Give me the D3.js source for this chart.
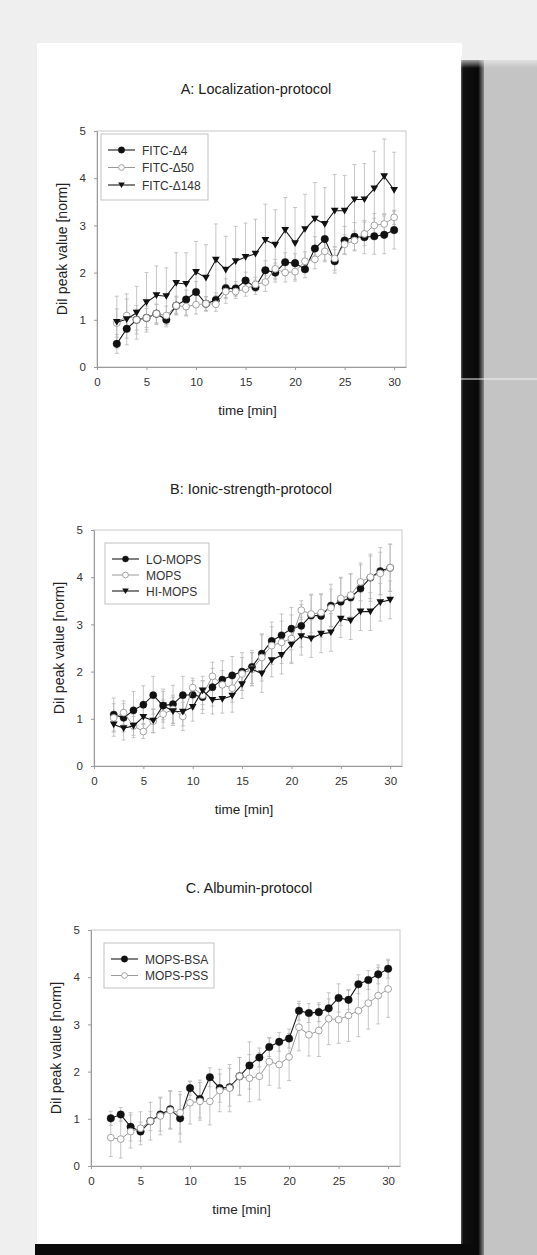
<!DOCTYPE html>
<html>
<head>
<meta charset="utf-8">
<style>
  body { margin: 0; background: #efefef; }
  svg { display: block; font-family: 'Liberation Sans', Arial, sans-serif; }
</style>
</head>
<body>
<svg width="537" height="1255"></svg>
<script src="https://d3js.org/d3.v7.min.js"></script>
<script>
// time points in minutes, shared by all three panels
let time = [2, 3, 4, 5, 6, 7, 8, 9, 10, 11, 12, 13, 14, 15, 16, 17, 18, 19, 20, 21, 22, 23, 24, 25, 26, 27, 28, 29, 30];
let xTicks = [0, 5, 10, 15, 20, 25, 30];
let yTicks = [0, 1, 2, 3, 4, 5];

// A: Localization-protocol
let fitc4 = [0.49, 0.81, 1.0, 1.04, 1.13, 1.0, 1.3, 1.43, 1.59, 1.34, 1.42, 1.67, 1.66, 1.83, 1.69, 2.05, 2.0, 2.22, 2.2, 2.07, 2.51, 2.71, 2.24, 2.68, 2.76, 2.75, 2.77, 2.8, 2.9];
let fitc4Sd = [0.2, 0.2, 0.22, 0.2, 0.2, 0.15, 0.18, 0.2, 0.22, 0.15, 0.15, 0.2, 0.15, 0.18, 0.15, 0.2, 0.2, 0.2, 0.2, 0.18, 0.25, 0.3, 0.25, 0.3, 0.3, 0.35, 0.38, 0.4, 0.4];
let fitc50 = [0.93, 1.09, 1.0, 1.04, 1.13, 1.09, 1.3, 1.28, 1.32, 1.34, 1.33, 1.6, 1.6, 1.65, 1.75, 1.8, 2.08, 2.0, 2.02, 2.24, 2.28, 2.45, 2.3, 2.6, 2.68, 2.82, 3.0, 3.03, 3.17];
let fitc50Sd = [0.3, 0.35, 0.3, 0.25, 0.2, 0.2, 0.2, 0.2, 0.2, 0.15, 0.15, 0.15, 0.15, 0.15, 0.15, 0.2, 0.2, 0.2, 0.2, 0.2, 0.2, 0.22, 0.25, 0.2, 0.2, 0.25, 0.25, 0.2, 0.15];
let fitc148 = [0.95, 1.01, 1.15, 1.37, 1.52, 1.5, 1.78, 1.76, 2.01, 1.89, 2.27, 2.06, 2.24, 2.33, 2.4, 2.69, 2.59, 2.9, 2.62, 2.92, 3.14, 3.03, 3.31, 3.31, 3.55, 3.55, 3.78, 4.04, 3.75];
let fitc148Sd = [0.55, 0.54, 0.56, 0.63, 0.62, 0.6, 0.64, 0.66, 0.65, 0.7, 0.76, 0.71, 0.74, 0.72, 0.73, 0.76, 0.74, 0.69, 0.76, 0.74, 0.77, 0.77, 0.77, 0.75, 0.74, 0.76, 0.79, 0.79, 0.8];

// B: Ionic-strength-protocol
let loMops = [1.09, 1.02, 1.18, 1.3, 1.5, 1.28, 1.31, 1.5, 1.51, 1.46, 1.67, 1.83, 1.92, 2.0, 2.1, 2.38, 2.65, 2.77, 2.91, 2.97, 3.19, 3.18, 3.4, 3.48, 3.57, 3.76, 3.99, 4.13, 4.2];
let loMopsSd = [0.35, 0.3, 0.4, 0.4, 0.4, 0.3, 0.4, 0.4, 0.3, 0.35, 0.4, 0.4, 0.4, 0.4, 0.35, 0.4, 0.4, 0.45, 0.45, 0.45, 0.45, 0.45, 0.45, 0.5, 0.5, 0.5, 0.5, 0.5, 0.5];
let mops = [1.02, 1.13, 0.85, 0.73, 0.95, 1.1, 1.2, 1.05, 1.66, 1.5, 1.9, 1.72, 1.65, 1.95, 2.05, 2.3, 2.55, 2.62, 2.7, 3.3, 3.22, 3.25, 3.35, 3.55, 3.62, 3.9, 4.0, 4.08, 4.2];
let mopsSd = [0.3, 0.25, 0.2, 0.15, 0.25, 0.3, 0.3, 0.3, 0.2, 0.3, 0.3, 0.3, 0.3, 0.35, 0.35, 0.5, 0.4, 0.45, 0.5, 0.2, 0.4, 0.4, 0.4, 0.45, 0.45, 0.4, 0.45, 0.45, 0.5];
let hiMops = [0.88, 0.8, 0.85, 1.04, 0.96, 1.28, 1.16, 1.15, 1.25, 1.6, 1.4, 1.42, 1.49, 1.73, 2.05, 1.96, 2.24, 2.35, 2.57, 2.75, 2.7, 2.8, 2.83, 3.12, 3.08, 3.27, 3.27, 3.47, 3.52];
let hiMopsSd = [0.25, 0.25, 0.25, 0.3, 0.25, 0.35, 0.3, 0.3, 0.3, 0.3, 0.3, 0.3, 0.35, 0.3, 0.35, 0.4, 0.35, 0.4, 0.4, 0.4, 0.4, 0.4, 0.4, 0.4, 0.4, 0.4, 0.4, 0.4, 0.4];

// C: Albumin-protocol
let mopsBsa = [1.01, 1.09, 0.83, 0.73, 0.95, 1.09, 1.2, 1.01, 1.65, 1.42, 1.88, 1.65, 1.67, 1.9, 2.13, 2.3, 2.52, 2.63, 2.7, 3.29, 3.24, 3.26, 3.34, 3.56, 3.52, 3.85, 3.94, 4.06, 4.18];
let mopsBsaSd = [0.15, 0.15, 0.3, 0.2, 0.2, 0.35, 0.4, 0.5, 0.15, 0.4, 0.2, 0.3, 0.4, 0.4, 0.5, 0.2, 0.2, 0.2, 0.2, 0.2, 0.2, 0.2, 0.2, 0.3, 0.2, 0.2, 0.2, 0.2, 0.2];
let mopsPss = [0.6, 0.57, 0.73, 0.8, 0.95, 1.06, 1.18, 1.13, 1.34, 1.37, 1.37, 1.6, 1.65, 1.9, 1.86, 1.9, 2.21, 2.15, 2.31, 2.94, 2.78, 2.87, 3.12, 3.1, 3.19, 3.29, 3.45, 3.61, 3.75];
let mopsPssSd = [0.4, 0.4, 0.35, 0.35, 0.4, 0.4, 0.4, 0.45, 0.45, 0.4, 0.5, 0.45, 0.5, 0.4, 0.5, 0.5, 0.5, 0.5, 0.5, 0.5, 0.45, 0.55, 0.55, 0.5, 0.55, 0.55, 0.55, 0.6, 0.6];

let svg = d3.select("svg")

// scanned page: white sheet, dark shadow right and bottom
let defs = svg.append("defs")
let gr = defs.append("linearGradient").attr("id", "shadowR")
gr.append("stop").attr("offset", "0%").attr("stop-color", "#555")
gr.append("stop").attr("offset", "10%").attr("stop-color", "#111")
gr.append("stop").attr("offset", "75%").attr("stop-color", "#080808")
gr.append("stop").attr("offset", "100%").attr("stop-color", "#8a8a8a")
let gt = defs.append("linearGradient").attr("id", "fadeTop").attr("x1", 0).attr("x2", 0).attr("y1", 0).attr("y2", 1)
gt.append("stop").attr("offset", "0%").attr("stop-color", "#efefef").attr("stop-opacity", 1)
gt.append("stop").attr("offset", "100%").attr("stop-color", "#efefef").attr("stop-opacity", 0)

svg.append("rect").attr("x", 37).attr("y", 43).attr("width", 425).attr("height", 1212).style("fill", "white")
svg.append("rect").attr("x", 483).attr("y", 60).attr("width", 54).attr("height", 1195).style("fill", "#c4c4c4")
svg.append("rect").attr("x", 461).attr("y", 60).attr("width", 23).attr("height", 1195).style("fill", "url(#shadowR)")
svg.append("rect").attr("x", 461).attr("y", 56).attr("width", 76).attr("height", 12).style("fill", "url(#fadeTop)")
svg.append("rect").attr("x", 35).attr("y", 1244).attr("width", 440).attr("height", 11).style("fill", "#0a0a0a")
svg.append("line").attr("x1", 461).attr("x2", 537).attr("y1", 379).attr("y2", 379)
    .style("stroke", "#f2f2f2").style("stroke-width", 1.2)

let panels = [
    {
        title: "A: Localization-protocol", titleX: 256, titleY: 94,
        left: 97, right: 406, top: 131, bottom: 367,
        legend: { x: 101, y: 134, w: 107, h: 66, row: 17.5 },
        series: [
            { name: "FITC-\u03944", values: fitc4, sd: fitc4Sd, marker: "circle", open: false, r: 3.8 },
            { name: "FITC-\u039450", values: fitc50, sd: fitc50Sd, marker: "circle", open: true, r: 3.4 },
            { name: "FITC-\u0394148", values: fitc148, sd: fitc148Sd, marker: "triangle", open: false, r: 3.4 }
        ]
    },
    {
        title: "B: Ionic-strength-protocol", titleX: 251, titleY: 494,
        left: 94, right: 402, top: 530, bottom: 766,
        legend: { x: 105, y: 543, w: 104, h: 61, row: 16 },
        series: [
            { name: "LO-MOPS", values: loMops, sd: loMopsSd, marker: "circle", open: false, r: 3.6 },
            { name: "MOPS", values: mops, sd: mopsSd, marker: "circle", open: true, r: 3.4 },
            { name: "HI-MOPS", values: hiMops, sd: hiMopsSd, marker: "triangle", open: false, r: 3.4 }
        ]
    },
    {
        title: "C. Albumin-protocol", titleX: 249, titleY: 893,
        left: 91, right: 400, top: 930, bottom: 1166,
        legend: { x: 104, y: 943, w: 110, h: 45, row: 16.5 },
        series: [
            { name: "MOPS-BSA", values: mopsBsa, sd: mopsBsaSd, marker: "circle", open: false, r: 3.8 },
            { name: "MOPS-PSS", values: mopsPss, sd: mopsPssSd, marker: "circle", open: true, r: 3.4 }
        ]
    }
]

function drawMarker(g, s, cx, cy, scale) {
    let k = scale || 1
    if (s.marker == "triangle") {
        g.append("path")
            .attr("d", d3.symbol().type(d3.symbolTriangle).size(26 * k * k)())
            .attr("transform", "translate(" + cx + "," + (cy - 0.8 * k) + ") rotate(180)")
            .style("fill", "#111")
    } else {
        g.append("circle")
            .attr("cx", cx).attr("cy", cy).attr("r", s.r * k)
            .style("fill", s.open ? "white" : "#111")
            .style("stroke", s.open ? "#9a9a9a" : "#111")
            .style("stroke-width", s.open ? 0.9 : 0.4)
    }
}

panels.forEach(p => {
    let g = svg.append("g")

    let x = d3.scaleLinear().domain([0, 31.2]).range([p.left, p.right])
    let y = d3.scaleLinear().domain([0, 5]).range([p.bottom, p.top])

    g.append("text")
        .attr("x", p.titleX).attr("y", p.titleY)
        .attr("text-anchor", "middle")
        .style("font-size", "14.5px").style("fill", "#222")
        .text(p.title)

    // plot area border
    g.append("rect")
        .attr("x", p.left).attr("y", p.top)
        .attr("width", p.right - p.left).attr("height", p.bottom - p.top)
        .style("fill", "none").style("stroke", "#c8c8c8").style("stroke-width", 1)

    let yAxis = g.append("g")
        .attr("transform", "translate(" + p.left + ",0)")
        .call(d3.axisLeft(y).tickValues(yTicks).tickFormat(d3.format("d")).tickSize(3).tickSizeOuter(0).tickPadding(8))
    let xAxis = g.append("g")
        .attr("transform", "translate(0," + p.bottom + ")")
        .call(d3.axisBottom(x).tickValues(xTicks).tickFormat(d3.format("d")).tickSize(3).tickSizeOuter(0).tickPadding(8))

    ;[yAxis, xAxis].forEach(a => {
        a.select(".domain").style("stroke", "#9a9a9a")
        a.selectAll(".tick line").style("stroke", "#9a9a9a")
        a.selectAll("text").style("font-size", "11.5px").style("fill", "#333")
            .style("font-family", "'Liberation Sans', Arial, sans-serif")
    })

    g.append("text")
        .attr("x", (x(0) + x(30)) / 2 + 2).attr("y", p.bottom + 48)
        .attr("text-anchor", "middle")
        .style("font-size", "13.5px").style("fill", "#222")
        .text("time [min]")

    g.append("text")
        .attr("transform", "translate(" + (p.left - 30) + "," + ((p.top + p.bottom) / 2) + ") rotate(-90)")
        .attr("text-anchor", "middle")
        .style("font-size", "14px").style("fill", "#222")
        .text("DiI peak value [norm]")

    // error bars
    p.series.forEach(s => {
        time.forEach((t, i) => {
            let v = s.values[i], e = s.sd[i]
            g.append("line")
                .attr("x1", x(t)).attr("x2", x(t))
                .attr("y1", y(v - e)).attr("y2", y(v + e))
                .style("stroke", "#b8b8b8").style("stroke-width", 0.8)
            ;[v - e, v + e].forEach(c => {
                g.append("line")
                    .attr("x1", x(t) - 2).attr("x2", x(t) + 2)
                    .attr("y1", y(c)).attr("y2", y(c))
                    .style("stroke", "#b8b8b8").style("stroke-width", 0.8)
            })
        })
    })

    // lines and markers
    p.series.forEach(s => {
        let line = d3.line().x((d, i) => x(time[i])).y(d => y(d))
        g.append("path")
            .attr("d", line(s.values))
            .style("fill", "none")
            .style("stroke", s.open ? "#8f8f8f" : "#1a1a1a")
            .style("stroke-width", s.open ? 0.9 : 1.1)
        s.values.forEach((v, i) => drawMarker(g, s, x(time[i]), y(v)))
    })

    // legend
    let L = p.legend
    g.append("rect")
        .attr("x", L.x).attr("y", L.y).attr("width", L.w).attr("height", L.h)
        .style("fill", "white").style("stroke", "#c2c2c2").style("stroke-width", 1)
    p.series.forEach((s, i) => {
        let ry = L.y + 16 + i * L.row
        g.append("line")
            .attr("x1", L.x + 7).attr("x2", L.x + 34).attr("y1", ry).attr("y2", ry)
            .style("stroke", s.open ? "#8f8f8f" : "#1a1a1a").style("stroke-width", s.open ? 0.9 : 1.1)
        drawMarker(g, s, L.x + 20.5, ry, 0.85)
        g.append("text")
            .attr("x", L.x + 41).attr("y", ry + 4.5)
            .style("font-size", "12px").style("fill", "#333")
            .text(s.name)
    })
})
</script>
</body>
</html>
